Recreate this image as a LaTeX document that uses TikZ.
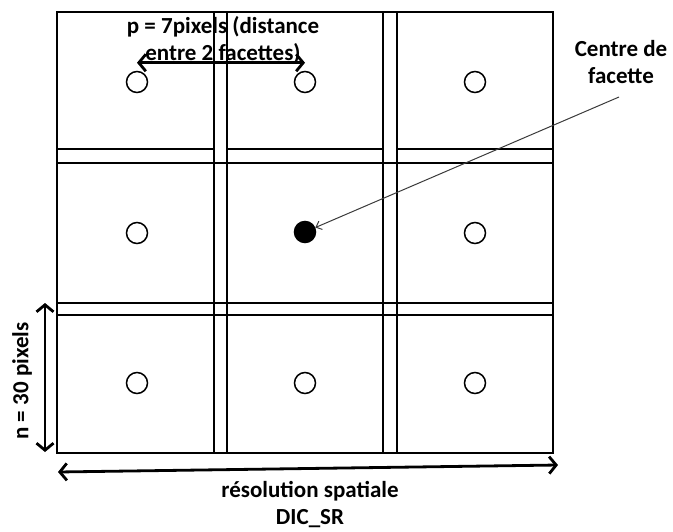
\documentclass[tikz,border=0pt]{standalone}
\usepackage{fontspec}
\setmainfont{Carlito}
\usetikzlibrary{arrows.meta}
\definecolor{pointergrey}{HTML}{3A3A3A}

\begin{document}
\begin{tikzpicture}[x=1pt,y=-1pt,
  cellline/.style={line width=2.4pt},
  facette/.style={circle, draw, line width=1.5pt, minimum size=21pt, inner sep=0pt},
  centre/.style={facette, fill=black},
  cote/.style={line width=2.8pt,
    {Straight Barb[length=7pt,width=17pt]}-{Straight Barb[length=7pt,width=17pt]}},
  pointeur/.style={line width=1pt, draw=pointergrey,
    -{Straight Barb[length=5pt,width=9pt]}},
  legende/.style={font=\bfseries\fontsize{23}{27}\selectfont, align=center, inner sep=0pt}]
\useasboundingbox (0,0) rectangle (673,531);

% texte du pas (sous la grille)
\node[legende] (pas) at (223,40) {p = 7pixels (distance\\entre 2 facettes)};

% grille 3x3 des facettes
\draw[cellline] (57,12) rectangle (553,453);
\foreach \x in {214,227,383,397} \draw[cellline] (\x,12) -- (\x,453);
\foreach \y in {163,303,315} \draw[cellline] (57,\y) -- (553,\y);
\foreach \a/\b in {57/214,227/383,397/553} \draw[cellline] (\a,149) -- (\b,149);

% centres de facette
\foreach \n/\x/\y in {11/137/82,12/305/82,13/475/82,
                      21/137/233,23/475/233,
                      31/137/383,32/305/383,33/475/383}
  \node[facette] (c\n) at (\x,\y) {};
\node[centre] (c22) at (305,232) {};

% cotes
\draw[cote] ([yshift=8pt]c11.north) -- ([yshift=8pt]c12.north);

\coordinate (nhaut) at (45,303);
\coordinate (nbas) at (45,452);
\draw[cote] (nhaut) -- (nbas);
\node[legende, rotate=90] (ntaille) at (22,381) {n = 30 pixels};

\coordinate (rgauche) at (58,472);
\coordinate (rdroite) at (558,465);
\draw[cote] (rgauche) -- (rdroite);
\node[legende] (resol) at (310,505) {résolution spatiale\\DIC\_SR};

% legende du centre
\node[legende] (nomcentre) at (621,62) {Centre de\\facette};
\coordinate (depart) at (619,97);
\draw[pointeur] (depart) -- (c22);
\end{tikzpicture}
\end{document}
